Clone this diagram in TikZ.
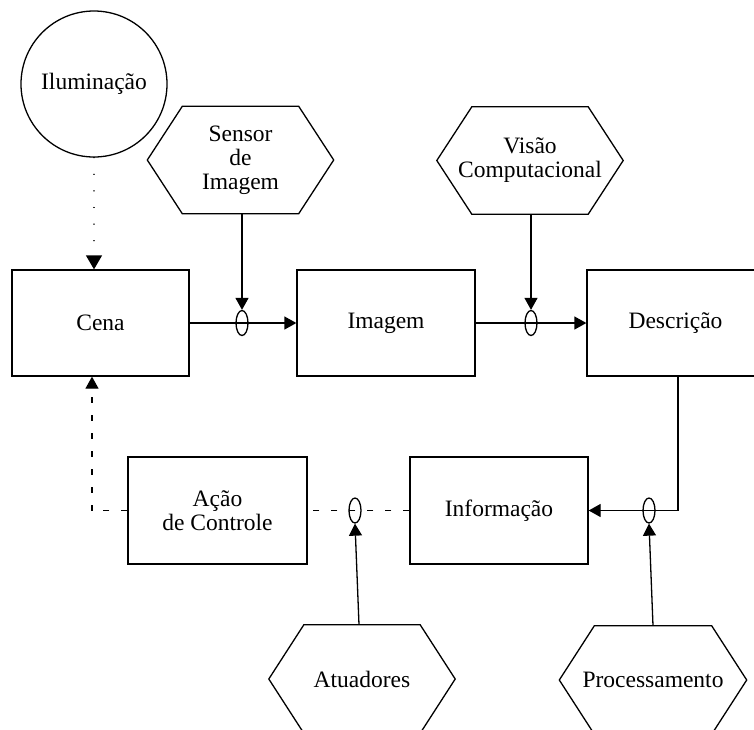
\documentclass[tikz,border=0pt]{standalone}
\usepackage{fontspec}
\IfFontExistsTF{Liberation Serif}{\setmainfont{Liberation Serif}}{\setmainfont{DejaVu Serif}}
\newfontfamily\diagfont{Liberation Serif}
\usetikzlibrary{arrows.meta,shapes.geometric}
\tikzset{
  base/.style={line width=1.3pt},
  lbl/.style={font=\diagfont\fontsize{23.5}{24}\selectfont, align=center, inner sep=0pt},
  boxnode/.style={lbl, draw, base, rectangle, minimum width=177pt, minimum height=106pt},
  hexnode/.style={lbl, minimum width=186pt, minimum height=107pt},
  circnode/.style={lbl, draw, base, circle, minimum size=146pt},
  junc/.style={draw, base, ellipse, minimum width=12pt, minimum height=25pt, inner sep=0pt},
  conn/.style={base, -{Triangle[length=12pt,width=13pt]}},
  dashconn/.style={base, dash pattern=on 6pt off 12pt},
  dotconn/.style={base, line cap=round, dash pattern=on 0.01pt off 16.6pt, -{Triangle[length=14pt,width=16pt]}}
}
\newcommand{\hexdraw}[2]{%
  \draw[base, line join=miter] (#1.west) -- ([xshift=#2]#1.north west) -- ([xshift=-#2]#1.north east) -- (#1.east) -- ([xshift=-#2]#1.south east) -- ([xshift=#2]#1.south west) -- cycle;}
\begin{document}
\begin{tikzpicture}[x=1pt,y=-1pt]
\useasboundingbox (0,0) rectangle (754,729);
\clip (0,0) rectangle (754,729);
\fill[white] (0,0) rectangle (754,729);

% nodes
\node[circnode] (ilum) at (94,84) {Iluminação};
\node[hexnode] (sensor) at (240.5,160) {Sensor\\de\\Imagem};
\hexdraw{sensor}{35pt}
\node[hexnode] (visao) at (530,160.5) {Visão\\Computacional};
\hexdraw{visao}{35pt}
\node[boxnode] (cena) at (100.5,323) {Cena};
\node[boxnode, minimum width=178pt] (imagem) at (386,323) {Imagem};
\node[boxnode] (descr) at (675.5,323) {Descrição};
\node[boxnode, minimum width=178pt, minimum height=107pt] (info) at (499,510.5) {Informação};
\node[boxnode, minimum width=179pt, minimum height=107pt] (acao) at (217.5,510.5) {Ação\\de Controle};
\node[hexnode, minimum height=108pt] (atua) at (362,679) {Atuadores};
\hexdraw{atua}{35pt}
\node[hexnode, minimum width=187pt, minimum height=108pt] (proc) at (653,680) {Processamento};
\hexdraw{proc}{35pt}

% junctions
\node[junc] (j1) at (242,323) {};
\node[junc] (j2) at (531,323) {};
\node[junc] (j3) at (355,510.5) {};
\node[junc] (j4) at (649,510.5) {};
\coordinate (k) at (92,510.5);

% connectors
\draw[dotconn] (ilum.south) -- (ilum.south |- cena.north);
\draw[conn] (cena.east) -- (imagem.west);
\draw[conn] (sensor.south -| j1) -- (j1.north);
\draw[conn] (imagem.east) -- (descr.west);
\draw[conn] (visao.south -| j2) -- (j2.north);
\draw[conn] ([xshift=2.5pt]descr.south) |- (info.east);
\draw[conn] (proc.north) -- (j4.south);
\draw[dashconn] (info.west) -- (acao.east);
\draw[conn] ([xshift=-3pt]atua.north) -- (j3.south);
\draw[dashconn] (acao.west) -- (k);
\draw[dashconn, -{Triangle[length=12pt,width=13pt]}] (k) -- (k |- cena.south);
\end{tikzpicture}
\end{document}
